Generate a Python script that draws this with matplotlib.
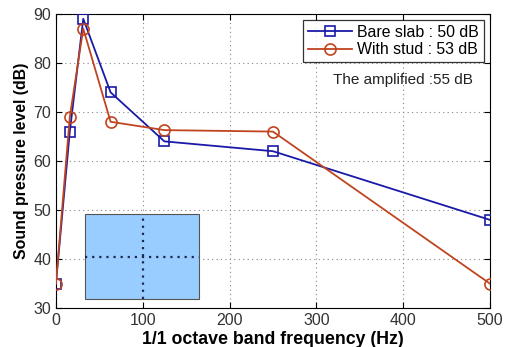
import matplotlib
matplotlib.use("Agg")
import matplotlib.pyplot as plt
from matplotlib.patches import Rectangle

plt.rcParams["font.family"] = ["Liberation Sans", "DejaVu Sans"]

# 1/1 octave band data
freq = [0, 16, 31.5, 63, 125, 250, 500]
bare_slab = [35, 66, 89, 74, 64, 62, 48]
with_stud = [35, 69, 87, 68, 66.3, 66, 35]

fig = plt.figure(figsize=(5.13, 3.47), dpi=100)
ax = fig.add_axes([0.109, 0.112, 0.846, 0.848])

# shaded region
ax.add_patch(Rectangle((33, 31.8), 132, 17.3, facecolor="#99ccff",
                       edgecolor="#555555", linewidth=0.8, zorder=1))
ax.plot([100, 100], [31.8, 49.1], color="#1a2a50", linestyle=(0, (1, 2.2)), lw=1.6, zorder=2)
ax.plot([33, 165], [40.4, 40.4], color="#1a2a50", linestyle=(0, (1, 2.2)), lw=1.6, zorder=2)

ax.plot(freq, bare_slab, color="#1a1aa8", marker="s", markersize=7,
        markerfacecolor="none", markeredgewidth=1.2, lw=1.3,
        label="Bare slab : 50 dB", zorder=3)
ax.plot(freq, with_stud, color="#c0441e", marker="o", markersize=8,
        markerfacecolor="none", markeredgewidth=1.2, lw=1.3,
        label="With stud : 53 dB", zorder=3)

ax.set_xlim(0, 500)
ax.set_ylim(30, 90)
ax.set_xticks([0, 100, 200, 300, 400, 500])
ax.set_yticks([30, 40, 50, 60, 70, 80, 90])
ax.tick_params(labelsize=11.5, labelcolor="#333333", direction="in", length=4,
               top=True, right=True)
ax.grid(True, linestyle=(0, (1, 3)), color="#888888", linewidth=0.8)
ax.set_axisbelow(True)

ax.set_xlabel("1/1 octave band frequency (Hz)", fontsize=12.8, fontweight="bold", labelpad=2)
ax.set_ylabel("Sound pressure level (dB)", fontsize=11.4, fontweight="bold", labelpad=3)

ax.text(400, 76.5, "The amplified :55 dB", fontsize=11, ha="center", va="center", color="#222222")

leg = ax.legend(loc="upper right", fontsize=11.4, frameon=True, fancybox=False,
                borderpad=0.3, handlelength=2.8, handletextpad=0.3, labelspacing=0.15,
                borderaxespad=0.4)
leg.get_frame().set_edgecolor("black")
leg.get_frame().set_linewidth(0.9)

plt.savefig("out.png", dpi=100)
